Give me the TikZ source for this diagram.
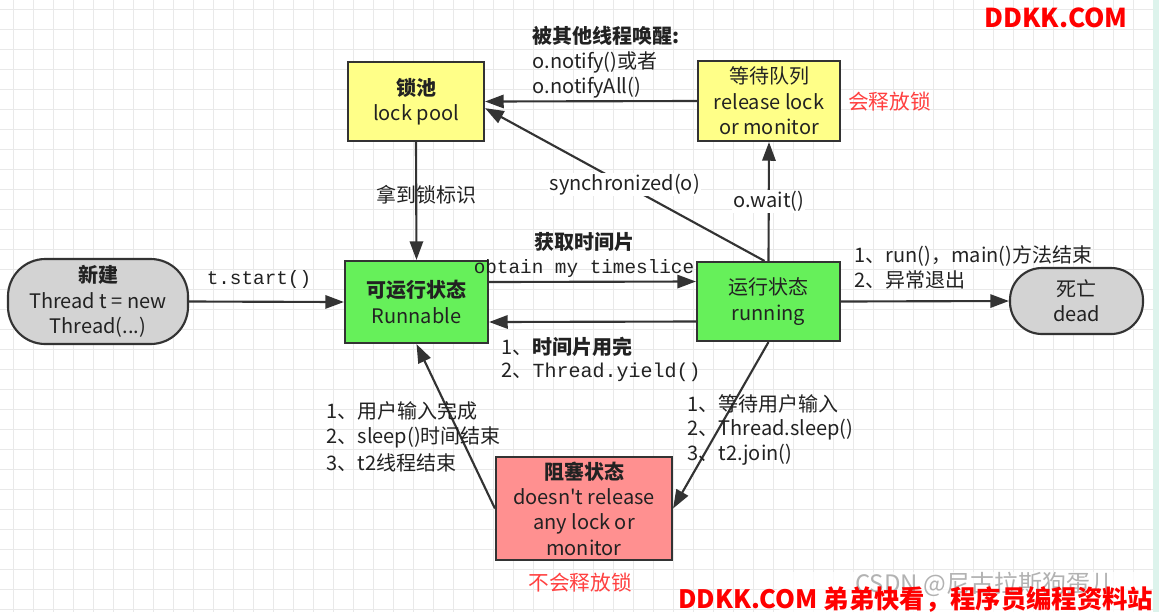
\documentclass[tikz,border=0pt]{standalone}
\usepackage{fontspec}
\setmainfont{Noto Sans CJK SC}[Ligatures=TeXOff]
\newfontfamily\mono{Liberation Mono}
\usetikzlibrary{arrows.meta}
\definecolor{edgec}{HTML}{333333}
\definecolor{txtc}{HTML}{222222}
\definecolor{gridc}{HTML}{E9E9E9}
\definecolor{grayc}{HTML}{D3D3D3}
\definecolor{greenc}{HTML}{66F05A}
\definecolor{yellowc}{HTML}{FFFF88}
\definecolor{pinkc}{HTML}{FF9090}
\definecolor{redc}{HTML}{FF4040}
\definecolor{wmred}{HTML}{FF0000}
\definecolor{mintc}{HTML}{DDF3EC}
\begin{document}
\begin{tikzpicture}[x=0.75pt,y=-0.75pt,
  box/.style={draw=edgec, line width=1.6pt, align=center, inner sep=0pt, text=txtc, font=\fontsize{15}{19}\selectfont},
  arr/.style={draw=edgec, line width=1.6pt, -{Triangle[length=14pt,width=10pt]}},
  lbl/.style={text=txtc, inner sep=1pt, font=\fontsize{15}{19}\selectfont},
  blbl/.style={text=txtc, inner sep=1pt, font=\bfseries\fontsize{15}{19}\selectfont},
  mlbl/.style={text=txtc, inner sep=1pt, font=\mono\fontsize{14.5}{19}\selectfont},
  redlbl/.style={text=redc, inner sep=0pt, font=\fontsize{15.5}{19}\selectfont},
  gridl/.style={draw=gridc, line width=0.75pt}]

\fill[white] (0,0) rectangle (1159,612);
\useasboundingbox (0,0) rectangle (1159,612);
\foreach \gx in {13,33,...,1153} \draw[gridl] (\gx,0) -- (\gx,612);
\foreach \gy in {9,29,...,609} \draw[gridl] (0,\gy) -- (1159,\gy);
\fill[mintc] (1153,0) rectangle (1159,612);

% nodes
\node[box, fill=grayc, rounded corners=28pt, minimum width=135pt, minimum height=63.75pt] (new) at (98,301.5)
  {{\bfseries 新建}\\Thread t = new\\Thread(...)};
\node[box, fill=greenc, minimum width=107.25pt, minimum height=61.5pt] (rbl) at (416.5,302)
  {{\bfseries 可运行状态}\\Runnable};
\node[box, fill=greenc, minimum width=107.25pt, minimum height=59.25pt] (run) at (768.5,301.5)
  {运行状态\\running};
\node[box, fill=grayc, rounded corners=24pt, minimum width=99.75pt, minimum height=49.5pt] (dead) at (1076.5,301)
  {死亡\\dead};
\node[box, fill=yellowc, minimum width=102pt, minimum height=59.25pt] (lock) at (416,101.5)
  {{\bfseries 锁池}\\lock pool};
\node[box, fill=yellowc, minimum width=106.5pt, minimum height=60pt] (wait) at (769,101)
  {等待队列\\release lock\\or monitor};
\node[box, fill=pinkc, minimum width=132pt, minimum height=77.25pt] (blk) at (584,508.5)
  {{\bfseries 阻塞状态}\\doesn't release\\any lock or\\monitor};

% connectors
\draw[arr] (new.east) -- (rbl.west);
\draw[arr] (lock.south) -- (rbl.north);
\draw[arr] ([yshift=15pt]rbl.east) -- ([yshift=15pt]run.west);
\draw[arr] ([yshift=-15pt]run.west) -- ([yshift=-15pt]rbl.east);
\draw[arr] (run.east) -- (dead.west);
\draw[arr] (run.north) -- node[lbl, fill=white] (owait) {o.wait()} (wait.south);
\draw[arr] (wait.west) -- (lock.east);
\draw[arr] ([xshift=-3pt]run.north) -- node[lbl, fill=white] (sync) {synchronized(o)} ([yshift=-5pt]lock.east);
\draw[arr] (run.south) -- (blk.east);
\draw[arr] (blk.west) -- (rbl.south);

% labels
\node[mlbl] (tstart) at (259,279) {t.start()};
\node[lbl] (getlock) at (426,195) {拿到锁标识};
\node[blbl] (gettime) at (584,242) {获取时间片};
\node[mlbl] (obtain) at (584,268) {obtain my timeslice};
\node[lbl, anchor=west] (used) at (500,347) {1、{\bfseries 时间片用完}};
\node[lbl, anchor=west] (yield) at (500,372) {2、{\mono Thread.yield()}};
\node[blbl, anchor=west] (wake) at (531,36) {被其他线程唤醒:};
\node[lbl, anchor=west] (notify) at (531,62) {o.notify()或者};
\node[lbl, anchor=west] (notifyall) at (531,88) {o.notifyAll()};
\node[redlbl, anchor=west] (rel) at (848,102) {会释放锁};
\node[lbl, anchor=west] (end1) at (853,256) {1、run()，main()方法结束};
\node[lbl, anchor=west] (end2) at (853,280) {2、异常退出};
\node[lbl, anchor=west] (in1) at (325,411) {1、用户输入完成};
\node[lbl, anchor=west] (in2) at (325,437) {2、sleep()时间结束};
\node[lbl, anchor=west] (in3) at (325,463) {3、t2线程结束};
\node[lbl, anchor=west] (out1) at (686,404) {1、等待用户输入};
\node[lbl, anchor=west] (out2) at (686,430) {2、Thread.sleep()};
\node[lbl, anchor=west] (out3) at (686,455) {3、t2.join()};
\node[redlbl] (norel) at (580,583) {不会释放锁};

% watermarks
\fill[white, opacity=0.7, rounded corners=6pt] (777,572) rectangle (1150,612);
\node[text=gray!60, inner sep=0pt, font=\fontsize{18}{20}\selectfont, anchor=west] (csdn) at (855,584) {CSDN @尼古拉斯狗蛋儿};
\node[text=wmred, inner sep=0pt, font=\bfseries\fontsize{19.5}{20}\selectfont] (wm1) at (1056,18) {DDKK.COM};
\node[text=wmred, inner sep=0pt, font=\bfseries\fontsize{19}{20}\selectfont, anchor=west] (wm2) at (678,599) {DDKK.COM 弟弟快看，程序员编程资料站};
\end{tikzpicture}
\end{document}
